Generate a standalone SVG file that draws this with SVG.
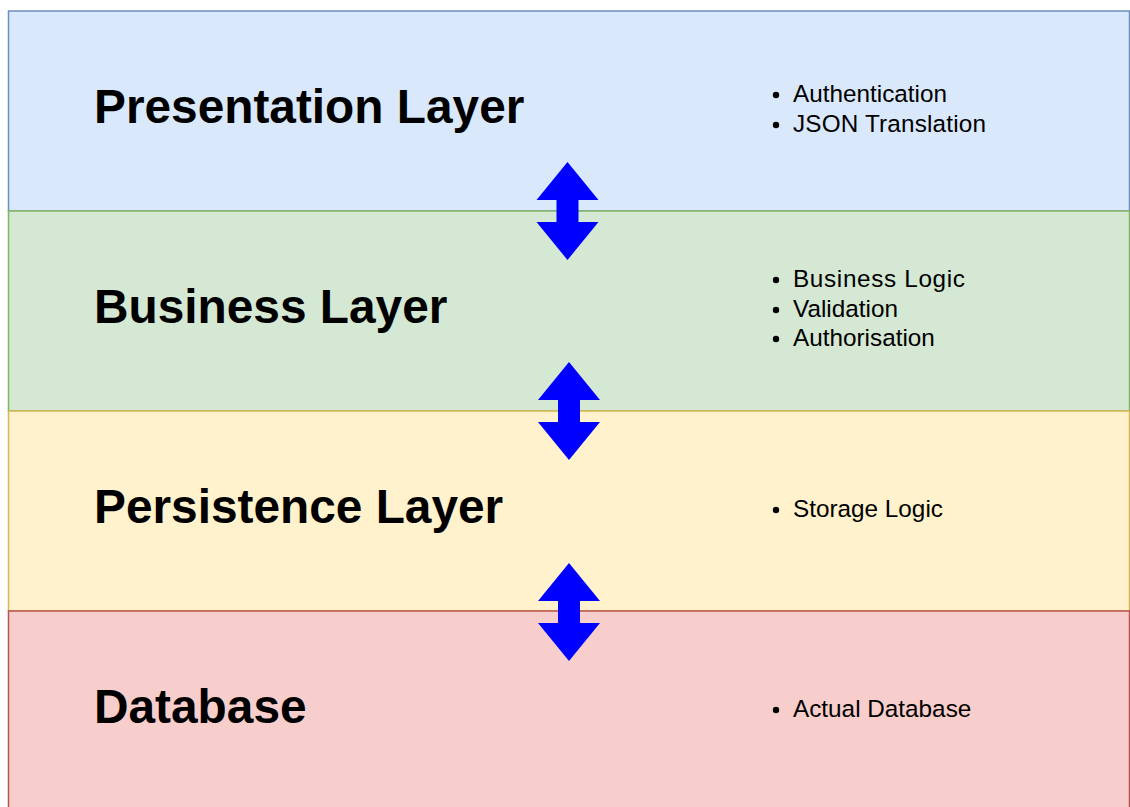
<svg xmlns="http://www.w3.org/2000/svg" width="1130" height="807" viewBox="0 0 1130 807">
  <style>
    .layer { stroke-width: 1.5; }
    .title { font-family: "Liberation Sans", Arial, sans-serif; font-weight: bold; font-size: 47.8px; fill: #000; }
    .item { font-family: "Liberation Sans", Arial, sans-serif; font-size: 24.3px; fill: #000; }
    .dot { fill: #000; }
    .arrow { fill: #0000ff; stroke: none; }
  </style>
  <defs>
    <polygon id="dblarrow" points="0,0 31,38 11,38 11,60 31,60 0,98 -31,60 -11,60 -11,38 -31,38"/>
  </defs>
  <rect x="0" y="0" width="1130" height="807" fill="#ffffff"/>

  <g id="presentation-layer">
    <rect class="layer" x="8.5" y="11" width="1121" height="200" fill="#dae8fc" stroke="#6c8ebf"/>
    <text class="title" x="94" y="122.7">Presentation Layer</text>
    <circle class="dot" cx="776" cy="95" r="3.2"/>
    <text class="item" x="793" y="101.7">Authentication</text>
    <circle class="dot" cx="776" cy="125" r="3.2"/>
    <text class="item" x="793" y="131.7" textLength="193">JSON Translation</text>
  </g>

  <g id="business-layer">
    <rect class="layer" x="8.5" y="211" width="1121" height="200" fill="#d5e8d4" stroke="#82b366"/>
    <text class="title" x="94" y="322.7">Business Layer</text>
    <circle class="dot" cx="776" cy="280" r="3.2"/>
    <text class="item" x="793" y="286.7" textLength="172">Business Logic</text>
    <circle class="dot" cx="776" cy="310" r="3.2"/>
    <text class="item" x="793" y="316.7">Validation</text>
    <circle class="dot" cx="776" cy="339" r="3.2"/>
    <text class="item" x="793" y="345.5">Authorisation</text>
  </g>

  <g id="persistence-layer">
    <rect class="layer" x="8.5" y="411" width="1121" height="200" fill="#fff2cc" stroke="#d6b656"/>
    <text class="title" x="94" y="522.7">Persistence Layer</text>
    <circle class="dot" cx="776" cy="510" r="3.2"/>
    <text class="item" x="793" y="516.7">Storage Logic</text>
  </g>

  <g id="database">
    <rect class="layer" x="8.5" y="611" width="1121" height="210" fill="#f8cecc" stroke="#b85450"/>
    <text class="title" x="94" y="722.7">Database</text>
    <circle class="dot" cx="776" cy="710" r="3.2"/>
    <text class="item" x="793" y="716.7">Actual Database</text>
  </g>

  <g id="connectors">
    <use class="arrow" href="#dblarrow" x="567.5" y="162"/>
    <use class="arrow" href="#dblarrow" x="569" y="362"/>
    <use class="arrow" href="#dblarrow" x="569" y="563"/>
  </g>
</svg>
